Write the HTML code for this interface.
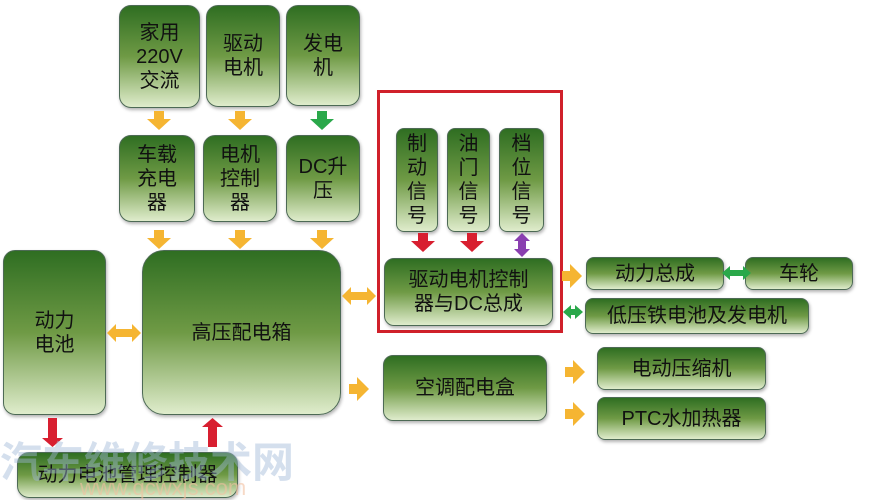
<!DOCTYPE html>
<html><head><meta charset="utf-8"><style>
body{margin:0;width:883px;height:500px;background:#fff;position:relative;overflow:hidden;font-family:"Liberation Sans","Noto Sans CJK SC",sans-serif}
.b{position:absolute;box-sizing:border-box;border:1.5px solid #4d6a55;border-radius:12px;background:linear-gradient(#2f6e22,#6f9a45 50%,#dfeccc);display:flex;align-items:center;justify-content:center;text-align:center;color:#111;font-size:20px;line-height:24px;box-shadow:1px 2px 3px rgba(0,0,0,.3)}
svg{position:absolute;left:0;top:0}
</style></head><body>
<div class="b" style="left:119px;top:5px;width:81px;height:103px">家用<br>220V<br>交流</div>
<div class="b" style="left:206px;top:5px;width:74px;height:102px">驱动<br>电机</div>
<div class="b" style="left:286px;top:5px;width:74px;height:101px">发电<br>机</div>
<div class="b" style="left:119px;top:135px;width:76px;height:87px">车载<br>充电<br>器</div>
<div class="b" style="left:203px;top:135px;width:74px;height:87px">电机<br>控制<br>器</div>
<div class="b" style="left:286px;top:135px;width:74px;height:87px">DC升<br>压</div>
<div class="b" style="left:3px;top:250px;width:103px;height:165px">动力<br>电池</div>
<div class="b" style="left:142px;top:250px;width:199px;height:165px;border-radius:22px">高压配电箱</div>
<div class="b" style="left:17px;top:452px;width:221px;height:46px">动力电池管理控制器</div>
<div style="position:absolute;left:377px;top:90px;width:186px;height:243px;box-sizing:border-box;border:3px solid #d0202a"></div>
<div class="b" style="left:396px;top:128px;width:42px;height:104px;border-radius:8px">制<br>动<br>信<br>号</div>
<div class="b" style="left:447px;top:128px;width:43px;height:104px;border-radius:8px">油<br>门<br>信<br>号</div>
<div class="b" style="left:499px;top:128px;width:45px;height:104px;border-radius:8px">档<br>位<br>信<br>号</div>
<div class="b" style="left:384px;top:258px;width:169px;height:68px;border-radius:10px">驱动电机控制<br>器与DC总成</div>
<div class="b" style="left:383px;top:355px;width:164px;height:66px;border-radius:10px">空调配电盒</div>
<div class="b" style="left:586px;top:257px;width:138px;height:33px;border-radius:8px">动力总成</div>
<div class="b" style="left:745px;top:257px;width:108px;height:33px;border-radius:8px">车轮</div>
<div class="b" style="left:585px;top:298px;width:224px;height:36px;border-radius:8px">低压铁电池及发电机</div>
<div class="b" style="left:597px;top:347px;width:169px;height:43px;border-radius:8px">电动压缩机</div>
<div class="b" style="left:597px;top:397px;width:169px;height:43px;border-radius:8px">PTC水加热器</div>
<svg width="883" height="500">
<defs>
<g id="d"><path d="M-5,-10h10v8h7l-12,11l-12,-11h7z"/></g>
<g id="r"><path d="M-10,-5h8v-7l12,12l-12,12v-7h-8z"/></g>
<g id="h"><path d="M-17,0l9,-9v5h16v-5l9,9l-9,9v-5h-16v5z"/></g>
<g id="v"><path d="M0,-12l8,8h-4v8h4l-8,8l-8,-8h4v-8h-4z"/></g>
</defs>
<g fill="#f5b532">
<use href="#d" x="159" y="121"/><use href="#d" x="240" y="121"/>
<use href="#d" x="159" y="240"/><use href="#d" x="240" y="240"/><use href="#d" x="322" y="240"/>
<use href="#h" x="124" y="333"/><use href="#h" x="359" y="296"/>
<use href="#r" x="359" y="389"/><use href="#r" x="572" y="276"/>
<use href="#r" x="575" y="372"/><use href="#r" x="575" y="414"/>
</g>
<g fill="#2aa84a"><use href="#d" x="322" y="121"/>
<path d="M751,273l-8,-7v4h-13v-4l-8,7l8,7v-4h13v4z"/>
<path d="M563,312l8,-7v4h4v-4l8,7l-8,7v-4h-4v4z"/></g>
<g fill="#d81f30"><use href="#d" x="423" y="243"/><use href="#d" x="472" y="243"/>
<path d="M48,418h9v20h6l-10.5,9l-10.5,-9h6z"/>
<path d="M208,447h9v-20h6l-10.5,-9l-10.5,9h6z"/></g>
<g fill="#8a3fb0"><use href="#v" x="522" y="245"/></g>
<text x="0" y="477" font-family="Liberation Sans,Noto Sans CJK SC,sans-serif" font-size="42" font-weight="bold" fill="#9fb8d6" fill-opacity=".45">汽车维修技术网</text>
<text x="80" y="495" font-family="Liberation Sans,sans-serif" font-size="22" fill="#f2c0a0" fill-opacity=".6">www.qcwxjs.com</text>
</svg>
</body></html>
